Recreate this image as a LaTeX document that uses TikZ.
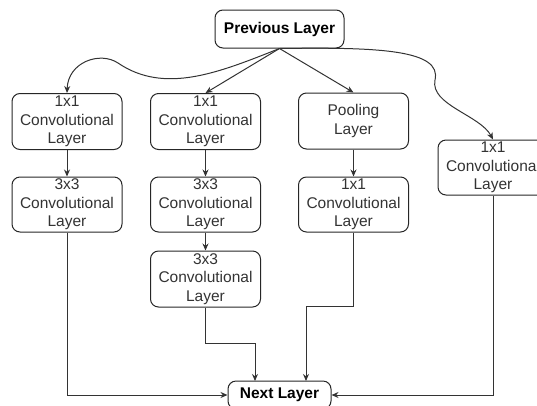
\documentclass[tikz,border=0pt]{standalone}
\usepackage{fontspec}
\setmainfont{Liberation Sans}
\usetikzlibrary{arrows.meta,positioning,calc}

\begin{document}
\begin{tikzpicture}[x=1pt, y=-1pt,
    layer/.style={draw=black!85, line width=1pt, rounded corners=8pt, minimum width=110pt, minimum height=56pt, inner sep=1pt, align=center, text=black!80, font=\fontsize{15.5}{18.5}\selectfont},
    edge/.style={draw=black!80, line width=1pt, -{Stealth[length=7pt,width=6pt]}}]
    \clip (0,0) rectangle (537,405);

    \node[layer, minimum width=129pt, minimum height=38pt, font=\bfseries\fontsize{15.5}{18.5}\selectfont, text=black] (prev) at (279.5,29) {Previous Layer};

    \node[layer] (c1a) at (67,121.5) {1x1\\Convolutional\\Layer};
    \node[layer, minimum height=55pt] (c1b) at (67,204.5) {3x3\\Convolutional\\Layer};

    \node[layer] (c2a) at (205.5,121.5) {1x1\\Convolutional\\Layer};
    \node[layer, minimum height=55pt] (c2b) at (205.5,204.5) {3x3\\Convolutional\\Layer};
    \node[layer] (c2c) at (205.5,279) {3x3\\Convolutional\\Layer};

    \node[layer] (pool) at (353.5,121) {Pooling\\Layer};
    \node[layer, minimum height=55pt] (c3b) at (353.5,204.5) {1x1\\Convolutional\\Layer};

    \node[layer, minimum height=55pt] (c4) at (493,167.5) {1x1\\Convolutional\\Layer};

    \node[layer, minimum width=103pt, minimum height=28pt, font=\bfseries\fontsize{15.5}{18.5}\selectfont, text=black] (next) at (279.5,395) {Next Layer};

    \draw[edge] (prev.south) .. controls (220,72) and (165,95) .. (118,63)
        .. controls (100,51) and (68,62) .. (c1a.north);
    \draw[edge] (prev.south) -- (c2a.north);
    \draw[edge] (prev.south) -- (pool.north);
    \draw[edge] (prev.south) .. controls (380,47) and (442,50) .. (435,80)
        .. controls (430,105) and (480,115) .. (c4.north);

    \draw[edge] (c1a) -- (c1b);
    \draw[edge] (c2a) -- (c2b);
    \draw[edge] (c2b) -- (c2c);
    \draw[edge] (pool) -- (c3b);

    \draw[edge] (c1b.south) |- (next.west);
    \draw[edge] (c2c.south) |- (255,343) -- (255,381);
    \draw[edge] (c3b.south) |- (306,306) -- (306,381);
    \draw[edge] (c4.south) |- (next.east);
\end{tikzpicture}
\end{document}
